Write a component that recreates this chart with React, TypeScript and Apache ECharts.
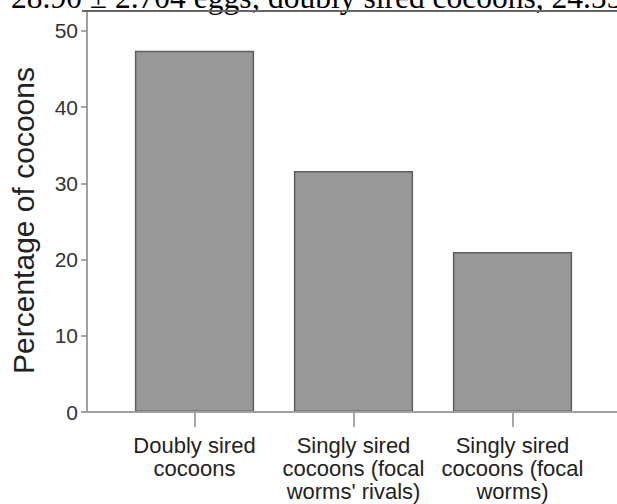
import React, { useEffect, useRef } from "react";
import * as echarts from "echarts";

const categories: string[] = [
  "Doubly sired\ncocoons",
  "Singly sired\ncocoons (focal\nworms' rivals)",
  "Singly sired\ncocoons (focal\nworms)",
];
const percentages: number[] = [47.4, 31.6, 21.0];
const yTicks: number[] = [0, 10, 20, 30, 40, 50];
const yAxisTitle = "Percentage of cocoons";
const clippedCaption = "28.90 ± 2.704 eggs; doubly sired cocoons, 24.55 ± 2.1";

export default function App() {
  const ref = useRef<HTMLDivElement>(null);
  useEffect(() => {
    document.body.style.margin = "0";
    if (!ref.current) return;
    const chart = echarts.init(ref.current, undefined, { renderer: "svg" });
    chart.setOption({
      animation: false,
      backgroundColor: "#ffffff",
      grid: { left: 110, right: 25, top: 11, bottom: 92, containLabel: false },
      xAxis: {
        type: "category",
        data: categories,
        axisLine: { show: false },
        axisTick: {
          show: true,
          alignWithLabel: true,
          length: 15,
          lineStyle: { color: "#8a8a8a", width: 1.5 },
        },
        axisLabel: {
          margin: 22,
          fontSize: 22,
          lineHeight: 23,
          color: "#222",
          fontFamily: "Liberation Sans, Arial, sans-serif",
          interval: 0,
        },
      },
      yAxis: {
        type: "value",
        min: 0,
        max: 52.6,
        interval: 10,
        offset: 28,
        name: yAxisTitle,
        nameLocation: "middle",
        nameGap: 49,
        nameTextStyle: {
          fontSize: 30,
          color: "#222",
          fontFamily: "Liberation Sans, Arial, sans-serif",
          padding: [0, 18, 0, 0],
        },
        axisLine: { show: true, lineStyle: { color: "#a0a0a0", width: 2 } },
        axisTick: {
          show: true,
          length: 6,
          customValues: yTicks,
          lineStyle: { color: "#8a8a8a", width: 1.5 },
        },
        axisLabel: {
          margin: 9,
          fontSize: 21,
          color: "#333",
          fontFamily: "Liberation Sans, Arial, sans-serif",
          customValues: yTicks,
        },
        splitLine: { show: false },
      },
      series: [
        {
          type: "bar",
          data: percentages,
          barWidth: "75%",
          itemStyle: {
            color: "#989898",
            borderColor: "#5e5e5e",
            borderWidth: 1.5,
          },
        },
      ],
      graphic: [
        {
          type: "text",
          x: 11,
          y: -3,
          z: 10,
          style: {
            text: clippedCaption,
            fontSize: 31.5,
            fontFamily: "Liberation Serif, Times New Roman, serif",
            fill: "#000",
            verticalAlign: "middle",
          },
        },
        {
          type: "line",
          z: 10,
          shape: { x1: 82, y1: 11, x2: 617, y2: 11 },
          style: { stroke: "#666", lineWidth: 2 },
        },
        {
          type: "line",
          z: 10,
          shape: { x1: 82, y1: 412, x2: 617, y2: 412 },
          style: { stroke: "#a0a0a0", lineWidth: 2 },
        },
      ],
    });
    return () => chart.dispose();
  }, []);
  return <div ref={ref} style={{ width: 617, height: 504 }} />;
}
